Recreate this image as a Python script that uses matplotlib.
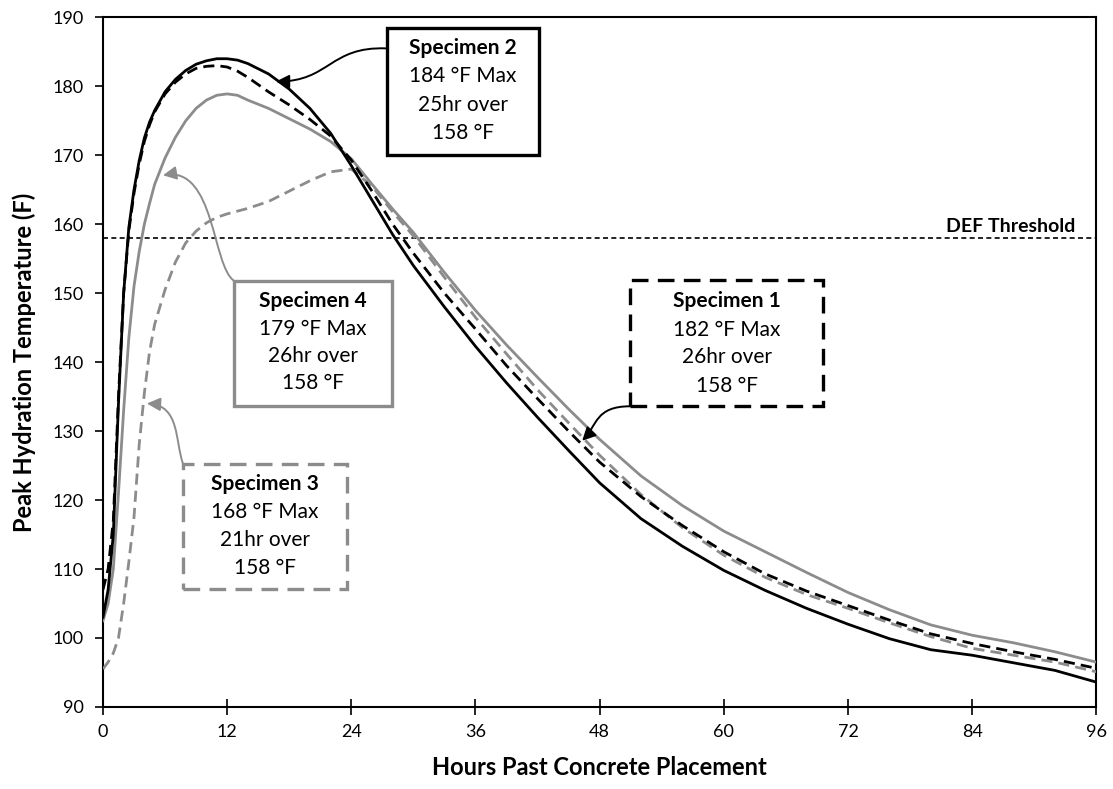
import numpy as np
import matplotlib.pyplot as plt
from matplotlib.patches import Rectangle, FancyArrowPatch
from matplotlib.path import Path

plt.rcParams['font.family'] = ['Lato', 'DejaVu Sans']

# hours past placement (shared by all four specimens)
hours = [0, 0.5, 1, 1.5, 2, 2.5, 3, 3.5, 4, 4.5, 5, 6, 7, 8, 9, 10, 11, 12, 13, 14,
         16, 18, 20, 22, 24, 26, 28, 30, 33, 36, 39, 42, 45, 48, 52, 56, 60, 64,
         68, 72, 76, 80, 84, 88, 92, 96]

spec1 = [107, 110, 117, 135, 150, 159, 164.5, 168.7, 172, 174.4, 176.3, 178.9, 180.6,
         181.8, 182.6, 182.9, 183, 182.8, 182.2, 181.3, 179.2, 177.3, 175.2, 172.8,
         169.3, 164.8, 160, 155.8, 150, 144.8, 139.5, 134.7, 130, 125.5, 120.5, 116.3,
         112.5, 109.3, 106.8, 104.7, 102.6, 100.6, 99.2, 98, 96.9, 95.6]
spec2 = [103, 107, 115, 134, 150, 159.5, 165, 169.2, 172.5, 174.8, 176.5, 179.2, 181,
         182.3, 183.2, 183.7, 184, 184, 183.8, 183.3, 181.8, 179.6, 176.8, 173.2,
         168.5, 163.5, 158.5, 154, 148, 142.3, 137, 132, 127.2, 122.5, 117.3, 113.3,
         109.8, 106.9, 104.3, 102, 99.9, 98.3, 97.5, 96.4, 95.3, 93.6]
spec3 = [95.5, 96.5, 97.8, 100, 105, 111, 117.5, 128, 135.5, 141.5, 145.5, 150.5, 154.5,
         157.3, 159, 160.2, 161, 161.5, 161.9, 162.3, 163.3, 164.8, 166.3, 167.6,
         168, 165.5, 161.8, 158.3, 152.3, 146.5, 141.2, 136, 131.2, 126.5, 120.8, 116,
         112, 108.8, 106.3, 104.3, 102.2, 100.2, 98.5, 97.5, 96.5, 95.1]
spec4 = [102.5, 105, 110, 121, 133, 143.5, 151, 156, 160, 163, 165.8, 169.6, 172.6,
         175, 176.8, 178, 178.7, 178.9, 178.7, 178, 176.8, 175.3, 173.8, 172,
         169.5, 165.8, 162.2, 158.8, 153, 147.5, 142.5, 137.8, 133.2, 128.8, 123.5,
         119.2, 115.5, 112.5, 109.5, 106.6, 104.1, 101.9, 100.4, 99.3, 98, 96.5]

def_threshold = 158
x_ticks = [0, 12, 24, 36, 48, 60, 72, 84, 96]
y_ticks = list(range(90, 191, 10))

GRAY = '#8c8c8c'
DASH = (4, 2.2)

fig = plt.figure(figsize=(11.13, 7.89), dpi=100)
ax = fig.add_axes([0.0925, 0.104, 0.8925, 0.874])

ax.plot(hours, spec4, color=GRAY, lw=2.0, zorder=3)
ax.plot(hours, spec3, color=GRAY, lw=2.0, dashes=DASH, zorder=3)
ax.plot(hours, spec1, color='black', lw=2.0, dashes=DASH, zorder=4)
ax.plot(hours, spec2, color='black', lw=2.0, zorder=4)

ax.axhline(def_threshold, color='black', lw=1.2, dashes=(3, 2), zorder=2)
ax.text(94.0, def_threshold + 0.5, 'DEF Threshold', ha='right', va='bottom',
        fontsize=14, fontweight='bold')

ax.set_xlim(0, 96)
ax.set_ylim(90, 190)
ax.set_xticks(x_ticks)
ax.set_yticks(y_ticks)
ax.tick_params(axis='x', direction='inout', length=12, width=1.2, labelsize=13, pad=6)
ax.tick_params(axis='y', direction='out', length=6, width=1.2, labelsize=13, pad=8)
for s in ax.spines.values():
    s.set_linewidth(1.5)

ax.set_xlabel('Hours Past Concrete Placement', fontsize=17, fontweight='bold', labelpad=12)
ax.set_ylabel('Peak Hydration Temperature (F)', fontsize=17, fontweight='bold', labelpad=12)


# annotation box with four centred lines, first one bold
def note_box(x0, x1, y0, y1, color, dashed, lines, xc, ys):
    ls = (0, (5, 2.8)) if dashed else '-'
    ax.add_patch(Rectangle((x0, y0), x1 - x0, y1 - y0, fill=True, facecolor='white',
                           edgecolor=color, lw=2.4, linestyle=ls, zorder=5))
    for i, (txt, y) in enumerate(zip(lines, ys)):
        ax.text(xc, y, txt, ha='center', va='center', fontsize=15,
                fontweight='bold' if i == 0 else 'normal', zorder=6)


def curved_arrow(pts, color):
    codes = [Path.MOVETO, Path.CURVE4, Path.CURVE4, Path.CURVE4]
    arr = FancyArrowPatch(path=Path(pts, codes), arrowstyle='-|>', mutation_scale=20,
                          color=color, lw=1.4, zorder=6)
    ax.add_patch(arr)


note_box(27.46, 42.15, 170.0, 188.4, 'black', False,
         ['Specimen 2', '184 °F Max', '25hr over', '158 °F'], 34.8,
         [185.5, 181.5, 177.3, 173.2])
curved_arrow([(27.36, 185.5), (21.9, 185.8), (21.9, 180.7), (16.72, 180.7)], 'black')

note_box(12.66, 27.94, 133.7, 151.8, GRAY, False,
         ['Specimen 4', '179 °F Max', '26hr over', '158 °F'], 20.3,
         [148.8, 144.8, 140.9, 137.0])
curved_arrow([(12.66, 151.8), (10.54, 154.0), (10.83, 168.4), (5.8, 167.1)], GRAY)

note_box(7.73, 23.59, 107.1, 125.3, GRAY, True,
         ['Specimen 3', '168 °F Max', '21hr over', '158 °F'], 15.66,
         [122.3, 118.2, 114.2, 110.1])
curved_arrow([(7.73, 125.3), (6.96, 128.6), (7.44, 133.7), (4.25, 134.0)], GRAY)

note_box(50.95, 69.6, 133.6, 151.9, 'black', True,
         ['Specimen 1', '182 °F Max', '26hr over', '158 °F'], 60.3,
         [148.9, 144.7, 140.7, 136.6])
curved_arrow([(50.95, 133.6), (47.56, 133.6), (47.76, 130.8), (46.31, 128.6)], 'black')

plt.savefig('out.png', dpi=100)
